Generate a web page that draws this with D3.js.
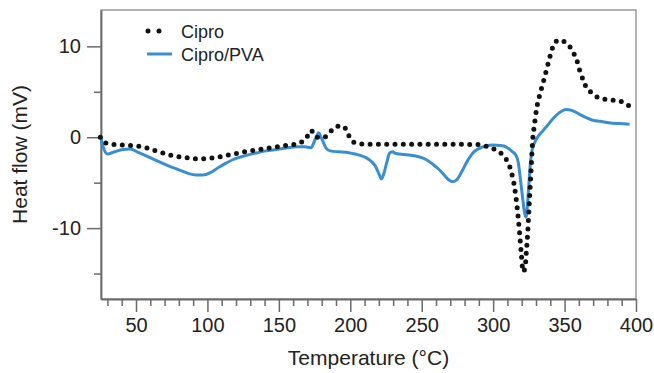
<!DOCTYPE html>
<html>
<head>
<meta charset="utf-8">
<script src="https://cdn.jsdelivr.net/npm/d3@7"></script>
<style>
  html, body { margin: 0; padding: 0; background: #fff; }
  svg text { font-family: "Liberation Sans", Arial, Helvetica, sans-serif; fill: #222; }
</style>
</head>
<body>
<div id="chart"></div>
<script>
// Cipro (black dotted) - temperature / heat flow
const ciproT = [25, 28, 35, 45, 52, 57, 62, 68, 75, 80, 86, 92, 98, 104, 110, 115, 121, 127, 133, 139, 145, 150, 156, 162, 165, 169, 172.5, 176, 179, 182, 185.5, 189, 191.5, 195, 198, 200.5, 205, 211, 230, 250, 270, 288, 293, 299, 304, 309, 312.5, 315, 317, 318.5, 319.7, 321, 322.3, 323.3, 324.2, 325.2, 326.4, 327.6, 329, 330.5, 332.5, 335, 337.5, 340, 342.5, 346, 350, 353.5, 356.5, 358.5, 360.5, 363, 365.5, 369, 373.5, 379, 385, 391, 395.5];
const ciproV = [0, -0.6, -0.8, -0.9, -1.0, -1.15, -1.4, -1.7, -2.0, -2.15, -2.27, -2.38, -2.38, -2.27, -2.12, -1.95, -1.76, -1.57, -1.43, -1.28, -1.13, -1.02, -0.88, -0.75, -0.6, -0.15, 0.75, 0.05, -0.05, 0.0, 0.5, 1.1, 1.22, 1.22, 0.55, -0.3, -0.68, -0.77, -0.77, -0.77, -0.77, -0.8, -0.9, -1.2, -1.6, -2.4, -3.7, -5.5, -8.0, -10.5, -12.8, -14.8, -14.4, -12.5, -10.5, -7.5, -4.0, -0.5, 1.5, 3.2, 4.6, 6.0, 7.5, 9.0, 10.2, 10.7, 10.5, 10.0, 9.2, 8.5, 7.4, 6.3, 5.4, 4.9, 4.35, 4.15, 4.05, 3.85, 3.4];

// Cipro/PVA (blue line)
const pvaT = [25, 27.5, 30, 35, 41, 46, 52, 58, 64, 70, 76, 82, 87, 92, 97, 102, 108, 113, 118, 127, 135, 141, 148, 155, 162, 168, 172.5, 175.5, 177.8, 179.5, 181, 183, 186, 192, 197, 202, 207, 211, 215, 218, 220.5, 221.8, 223.5, 225.5, 227.5, 229.5, 232, 241, 248, 253, 258, 262.5, 266, 269, 272, 275, 278, 282, 286, 290, 295, 300, 305, 309, 313.5, 316, 317.5, 319, 320.5, 322, 323, 324, 325, 326, 327.2, 329, 332, 335, 338, 342, 346, 351, 355, 358, 362, 366, 370, 375, 381, 388, 395.5];
const pvaV = [0.2, -1.3, -1.85, -1.6, -1.35, -1.3, -1.7, -2.1, -2.55, -2.95, -3.35, -3.7, -4.0, -4.15, -4.15, -3.9, -3.3, -2.85, -2.45, -2.0, -1.7, -1.5, -1.35, -1.2, -1.05, -1.05, -1.15, -0.2, 0.5, 0.0, -0.5, -1.2, -1.5, -1.6, -1.65, -1.8, -2.0, -2.25, -2.7, -3.3, -4.2, -4.6, -4.0, -2.8, -1.75, -1.6, -1.8, -1.95, -2.15, -2.45, -3.0, -3.6, -4.2, -4.7, -4.9, -4.6, -3.8, -2.6, -1.7, -1.25, -0.95, -0.85, -0.9, -1.05, -1.6, -2.0, -2.7, -4.5, -6.5, -8.3, -8.8, -7.5, -5.2, -3.0, -1.5, -0.6, 0.2, 0.75, 1.3, 2.05, 2.65, 3.05, 2.95, 2.75, 2.4, 2.1, 1.85, 1.75, 1.6, 1.5, 1.43];

const xMajor = [50, 100, 150, 200, 250, 300, 350, 400];
const xMinor = d3.range(30, 400, 10).filter(v => v % 50 !== 0);
const yMajor = [-10, 0, 10];
const yMinor = [-15, -5, 5];

const W = 654, H = 373;
const plotLeft = 101, plotRight = 636, plotTop = 10, plotBottom = 299;

const svg = d3.select('#chart').append('svg')
  .attr('width', W)
  .attr('height', H);

const x = d3.scaleLinear().domain([25.5, 400]).range([plotLeft, plotRight]);
const y = d3.scaleLinear().domain([-17.8, 14]).range([plotBottom, plotTop]);

// frame (top / right lighter)
svg.append('rect')
  .attr('x', plotLeft).attr('y', plotTop)
  .attr('width', plotRight - plotLeft).attr('height', plotBottom - plotTop)
  .attr('fill', 'none')
  .attr('stroke', '#999')
  .attr('stroke-width', 1.5);

const axisColor = '#6a6a6a';

function styleAxis(g) {
  g.select('.domain').attr('stroke', axisColor).attr('stroke-width', 1.8);
  g.selectAll('.tick line').attr('stroke', axisColor).attr('stroke-width', 1.5);
  g.selectAll('.tick text')
    .style('font-family', '"Liberation Sans", Arial, sans-serif')
    .style('font-size', '20px')
    .attr('fill', '#222');
}

// x axis
svg.append('g')
  .attr('transform', `translate(0,${plotBottom})`)
  .call(d3.axisBottom(x).tickValues(xMinor).tickSize(7).tickFormat(''))
  .call(g => g.select('.domain').remove())
  .call(styleAxis);
svg.append('g')
  .attr('transform', `translate(0,${plotBottom})`)
  .call(d3.axisBottom(x).tickValues(xMajor).tickSize(13).tickPadding(6).tickSizeOuter(0))
  .call(styleAxis);

// y axis
svg.append('g')
  .attr('transform', `translate(${plotLeft},0)`)
  .call(d3.axisLeft(y).tickValues(yMinor).tickSize(7).tickFormat(''))
  .call(g => g.select('.domain').remove())
  .call(styleAxis);
svg.append('g')
  .attr('transform', `translate(${plotLeft},0)`)
  .call(d3.axisLeft(y).tickValues(yMajor).tickSize(14).tickPadding(6).tickSizeOuter(0)
    .tickFormat(d => String(d)))
  .call(styleAxis);

// axis titles
svg.append('text')
  .attr('x', (plotLeft + plotRight) / 2)
  .attr('y', 365)
  .attr('text-anchor', 'middle')
  .style('font-size', '21px')
  .text('Temperature (°C)');

svg.append('text')
  .attr('transform', `translate(27,${(plotTop + plotBottom) / 2}) rotate(-90)`)
  .attr('text-anchor', 'middle')
  .style('font-size', '21px')
  .text('Heat flow (mV)');

// lines
const line = d3.line()
  .x(d => x(d[0]))
  .y(d => y(d[1]))
  .curve(d3.curveMonotoneX);

const pva = pvaT.map((t, i) => [t, pvaV[i]]);
const cipro = ciproT.map((t, i) => [t, ciproV[i]]);

svg.append('path')
  .datum(pva)
  .attr('d', line)
  .attr('fill', 'none')
  .attr('stroke', '#3a8ed0')
  .attr('stroke-width', 3)
  .attr('stroke-linejoin', 'round');

svg.append('path')
  .datum(cipro)
  .attr('d', line)
  .attr('fill', 'none')
  .attr('stroke', '#111')
  .attr('stroke-width', 5)
  .attr('stroke-linecap', 'round')
  .attr('stroke-dasharray', '0 8.3');

// legend
const legend = svg.append('g');
legend.append('line')
  .attr('x1', 148).attr('x2', 170)
  .attr('y1', 31).attr('y2', 31)
  .attr('stroke', '#111')
  .attr('stroke-width', 5)
  .attr('stroke-linecap', 'round')
  .attr('stroke-dasharray', '0 11');
legend.append('text')
  .attr('x', 181).attr('y', 37.5)
  .style('font-size', '18px')
  .text('Cipro');

legend.append('line')
  .attr('x1', 147).attr('x2', 172)
  .attr('y1', 54).attr('y2', 54)
  .attr('stroke', '#3a8ed0')
  .attr('stroke-width', 3);
legend.append('text')
  .attr('x', 181).attr('y', 60.5)
  .style('font-size', '18px')
  .text('Cipro/PVA');
</script>
</body>
</html>
